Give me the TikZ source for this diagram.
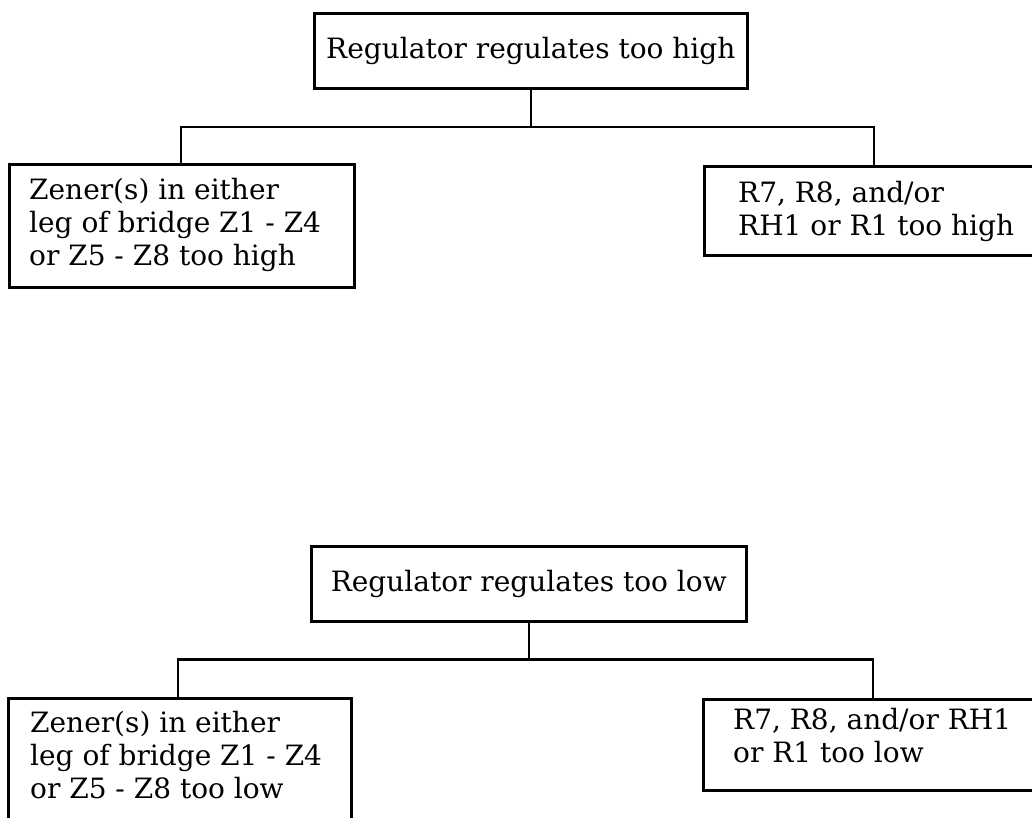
\documentclass[tikz,border=0pt]{standalone}
\usepackage{fontspec}
\setmainfont{DejaVu Serif}
\usetikzlibrary{calc}
\begin{document}
\begin{tikzpicture}[x=1pt,y=-1pt,
  box/.style={draw, line width=2.6pt, inner sep=0pt, anchor=north west},
  txt/.style={font=\fontsize{28}{33}\selectfont, inner sep=0pt, align=left},
  lbl/.style={txt, anchor=north west},
  wire/.style={line width=2.6pt}]
\useasboundingbox (0,0) rectangle (1032,818);
\clip (0,0) rectangle (1032,818);

% ---- upper tree ----
\node[box, minimum width=433pt, minimum height=75pt] (t1) at (313,12) {};
\node[txt] (t1t) at (t1.center) {Regulator regulates too high};
\node[box, minimum width=345pt, minimum height=123pt] (l1) at (8,163) {};
\node[lbl] (l1t) at (29,178) {Zener(s) in either\\leg of bridge Z1 - Z4\\or Z5 - Z8 too high};
\node[box, minimum width=345pt, minimum height=89pt] (r1) at (703,165) {};
\node[lbl] (r1t) at (738,181) {R7, R8, and/or\\RH1 or R1 too high};
\coordinate (hl1) at (181,127);
\coordinate (hr1) at (874,127);
\draw[wire] (t1.south) -- (t1.south |- hl1);
\draw[wire] (hl1 |- l1.north) -- (hl1) -- (hr1) -- (hr1 |- r1.north);

% ---- lower tree ----
\node[box, minimum width=435pt, minimum height=75pt] (t2) at (310,545) {};
\node[txt] (t2t) at (t2.center) {Regulator regulates too low};
\node[box, minimum width=343pt, minimum height=150pt] (l2) at (7,697) {};
\node[lbl] (l2t) at (30,711) {Zener(s) in either\\leg of bridge Z1 - Z4\\or Z5 - Z8 too low};
\node[box, minimum width=345pt, minimum height=91pt] (r2) at (702,698) {};
\node[lbl] (r2t) at (733,708) {R7, R8, and/or RH1\\or R1 too low};
\coordinate (hl2) at (178,659.5);
\coordinate (hr2) at (873,659.5);
\draw[wire] (t2.south) -- (t2.south |- hl2);
\draw[wire] (hl2 |- l2.north) -- (hl2) -- (hr2) -- (hr2 |- r2.north);
\end{tikzpicture}
\end{document}
